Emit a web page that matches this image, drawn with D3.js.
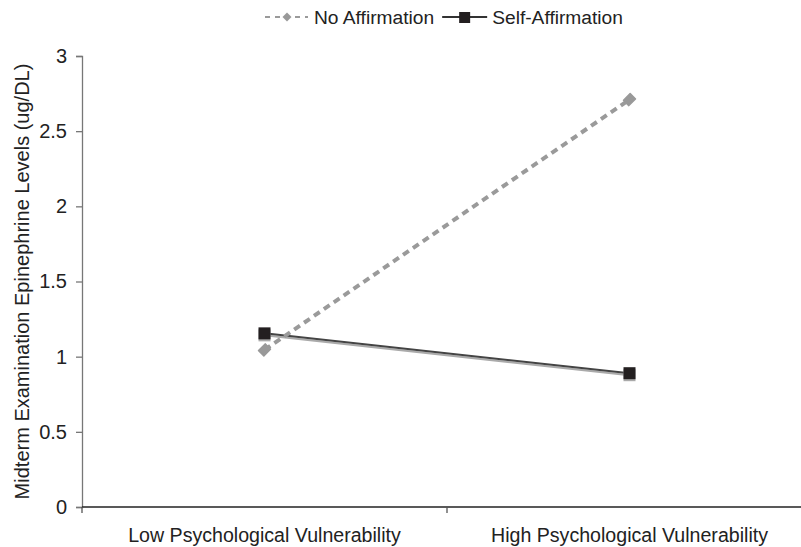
<!DOCTYPE html>
<html>
<head>
<meta charset="utf-8">
<script src="https://cdn.jsdelivr.net/npm/d3@7"></script>
<style>
  body { margin: 0; background: #fff; }
  svg text { font-family: "Liberation Sans", Arial, sans-serif; fill: #222; }
</style>
</head>
<body>
<div id="chart"></div>
<script>
// values
var groups = ["Low Psychological Vulnerability", "High Psychological Vulnerability"];
var noAffirmation = [1.045, 2.71];
var selfAffirmation = [1.155, 0.89];
var yTicks = [0, 0.5, 1, 1.5, 2, 2.5, 3];
var seriesNames = ["No Affirmation", "Self-Affirmation"];

var width = 801;
var height = 547;
var plotLeft = 82, plotRight = 812, plotTop = 56, plotBottom = 507;

var svg = d3.select("#chart")
  .append("svg")
  .attr("width", width)
  .attr("height", height);

var xScale = d3.scaleBand().domain(groups).range([plotLeft, plotRight]);
var yScale = d3.scaleLinear().domain([0, 3]).range([plotBottom, plotTop]);

// y axis
var yAxis = d3.axisLeft(yScale)
  .tickValues(yTicks)
  .tickFormat(function(d) { return d; })
  .tickSizeOuter(0)
  .tickSize(6)
  .tickPadding(9);
var yG = svg.append("g")
  .attr("transform", "translate(" + plotLeft + ",0)")
  .call(yAxis);
yG.select(".domain").attr("stroke", "#777").attr("stroke-width", 1.3);
yG.selectAll(".tick line").attr("stroke", "#777").attr("stroke-width", 1.3);
yG.selectAll(".tick text").attr("font-size", 20).attr("fill", "#222");

// x axis, ticks between categories
var xG = svg.append("g")
  .attr("transform", "translate(0," + plotBottom + ")");
xG.append("line")
  .attr("x1", plotLeft).attr("x2", plotRight)
  .attr("stroke", "#222").attr("stroke-width", 1.5);
var edges = [plotLeft].concat(groups.map(function(g) { return xScale(g) + xScale.bandwidth(); }));
xG.selectAll(".edge").data(edges).enter()
  .append("line")
  .attr("x1", function(d) { return d; })
  .attr("x2", function(d) { return d; })
  .attr("y1", 0).attr("y2", 6)
  .attr("stroke", "#555").attr("stroke-width", 1.3);
xG.selectAll(".cat").data(groups).enter()
  .append("text")
  .attr("x", function(d) { return xScale(d) + xScale.bandwidth() / 2; })
  .attr("y", 35)
  .attr("text-anchor", "middle")
  .attr("font-size", 19.6)
  .text(function(d) { return d; });

// y axis title
svg.append("text")
  .attr("transform", "translate(29," + ((plotTop + plotBottom) / 2) + ")rotate(-90)")
  .attr("text-anchor", "middle")
  .attr("font-size", 20)
  .text("Midterm Examination Epinephrine Levels (ug/DL)");

function px(i) { return xScale(groups[i]) + xScale.bandwidth() / 2; }

var line = d3.line()
  .x(function(d, i) { return px(i); })
  .y(function(d) { return yScale(d); });

// Self-Affirmation: dark line with a light grey shadow under it
svg.append("path")
  .datum(selfAffirmation)
  .attr("d", line)
  .attr("transform", "translate(0,2)")
  .attr("fill", "none")
  .attr("stroke", "#aaa")
  .attr("stroke-width", 2);
svg.append("path")
  .datum(selfAffirmation)
  .attr("d", line)
  .attr("fill", "none")
  .attr("stroke", "#444")
  .attr("stroke-width", 2);

// No Affirmation: thick grey dashed line
svg.append("path")
  .datum(noAffirmation)
  .attr("d", line)
  .attr("fill", "none")
  .attr("stroke", "#9a9a9a")
  .attr("stroke-width", 4)
  .attr("stroke-dasharray", "7,5");

// diamonds: rotated squares, a bit rounder than d3's narrow diamond
var diamond = d3.symbol().type(d3.symbolSquare).size(72);
svg.selectAll(".dia").data(noAffirmation).enter()
  .append("path")
  .attr("d", diamond)
  .attr("transform", function(d, i) { return "translate(" + px(i) + "," + yScale(d) + ")rotate(45)scale(0.9,1.1)"; })
  .attr("fill", "#999")
  .attr("stroke", "#999")
  .attr("stroke-linejoin", "round")
  .attr("stroke-width", 1.5);

// squares with grey base
svg.selectAll(".sqShadow").data(selfAffirmation).enter()
  .append("rect")
  .attr("x", function(d, i) { return px(i) - 6; })
  .attr("y", function(d) { return yScale(d) - 4; })
  .attr("width", 12).attr("height", 12)
  .attr("fill", "#aaa");
svg.selectAll(".sq").data(selfAffirmation).enter()
  .append("rect")
  .attr("x", function(d, i) { return px(i) - 6; })
  .attr("y", function(d) { return yScale(d) - 6; })
  .attr("width", 12).attr("height", 12)
  .attr("fill", "#231f20");

// legend
var legend = svg.append("g").attr("transform", "translate(265,17)");
legend.append("line")
  .attr("x1", 0).attr("x2", 43)
  .attr("stroke", "#9a9a9a").attr("stroke-width", 2)
  .attr("stroke-dasharray", "5,5");
legend.append("path")
  .attr("d", d3.symbol().type(d3.symbolSquare).size(40))
  .attr("transform", "translate(22,0)rotate(45)")
  .attr("fill", "#999");
var t1 = legend.append("text")
  .attr("x", 49).attr("y", 7)
  .attr("font-size", 19.2)
  .text(seriesNames[0]);
var x2 = 49 + t1.node().getComputedTextLength() + 8;
legend.append("line")
  .attr("x1", x2).attr("x2", x2 + 45)
  .attr("stroke", "#333").attr("stroke-width", 2);
legend.append("rect")
  .attr("x", x2 + 17).attr("y", -5)
  .attr("width", 11).attr("height", 11)
  .attr("fill", "#231f20");
legend.append("text")
  .attr("x", x2 + 50).attr("y", 7)
  .attr("font-size", 19.2)
  .text(seriesNames[1]);
</script>
</body>
</html>
